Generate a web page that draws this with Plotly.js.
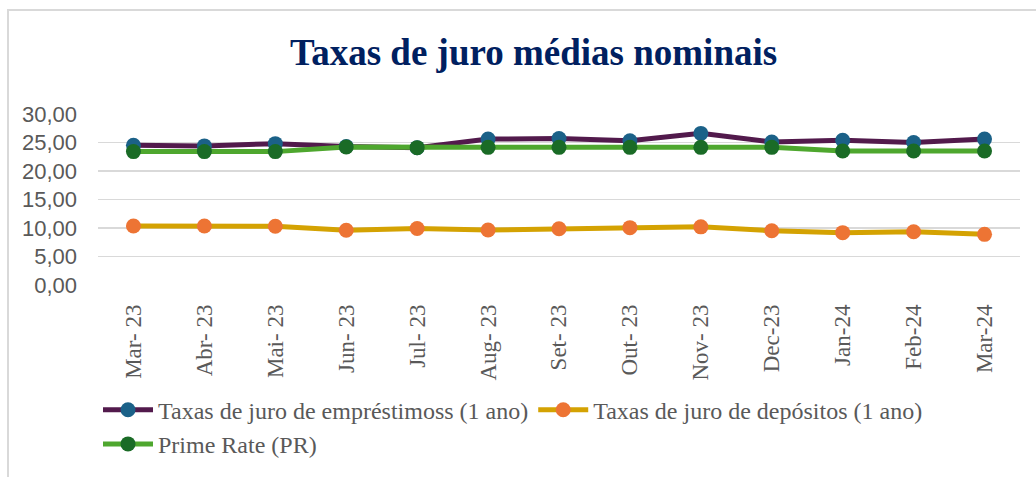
<!DOCTYPE html>
<html>
<head>
<meta charset="utf-8">
<script src="https://cdn.plot.ly/plotly-3.0.1.min.js"></script>
<style>
  html, body { margin: 0; padding: 0; background: #ffffff; }
  #chart { position: absolute; left: 0; top: 0; width: 1036px; height: 477px; }
  #frame { position: absolute; left: 7px; top: 9px; width: 1100px; height: 600px;
           border-left: 2px solid #d9d9d9; border-top: 2px solid #d9d9d9; pointer-events: none; }
</style>
</head>
<body>
<div id="chart"></div>
<div id="frame"></div>
<script>
const categories = ['Mar- 23','Abr- 23','Mai- 23','Jun- 23','Jul- 23','Aug- 23','Set- 23','Out- 23','Nov- 23','Dec-23','Jan-24','Feb-24','Mar-24'];
const emprestimos = [24.5, 24.4, 24.8, 24.3, 24.1, 25.6, 25.7, 25.3, 26.6, 25.1, 25.4, 25.0, 25.6];
const depositos = [10.35, 10.35, 10.3, 9.6, 9.9, 9.65, 9.88, 10.06, 10.2, 9.53, 9.18, 9.35, 8.89];
const primeRate = [23.4, 23.4, 23.4, 24.2, 24.1, 24.15, 24.15, 24.15, 24.15, 24.15, 23.5, 23.5, 23.5];
const seriesNames = ['Taxas de juro de empréstimoss (1 ano)', 'Taxas de juro de depósitos (1 ano)', 'Prime Rate (PR)'];

const traces = [
  { x: categories, y: emprestimos, name: seriesNames[0], type: 'scatter', mode: 'lines+markers',
    line: { color: '#521a4c', width: 5 }, marker: { color: '#1b6188', size: 15 } },
  { x: categories, y: depositos, name: seriesNames[1], type: 'scatter', mode: 'lines+markers',
    line: { color: '#d4a202', width: 5 }, marker: { color: '#ed7434', size: 15 } },
  { x: categories, y: primeRate, name: seriesNames[2], type: 'scatter', mode: 'lines+markers',
    line: { color: '#4ea72e', width: 5 }, marker: { color: '#1a6b26', size: 15 } }
];

const layout = {
  width: 1036, height: 477,
  margin: { l: 98, r: 16, t: 114, b: 192, autoexpand: false },
  paper_bgcolor: 'rgba(0,0,0,0)',
  plot_bgcolor: '#ffffff',
  separators: ',.',
  showlegend: true,
  title: {
    text: 'Taxas de juro médias nominais',
    font: { family: 'Liberation Serif', size: 37, color: '#002060', weight: 'bold' },
    xref: 'container', yref: 'container', x: 0.515, y: 0.891, xanchor: 'center', yanchor: 'middle'
  },
  xaxis: {
    type: 'category',
    range: [-0.5, categories.length - 0.5],
    tickangle: -90,
    automargin: false,
    showgrid: false, zeroline: false, showline: false, ticks: '',
    ticklabelstandoff: 14,
    tickfont: { family: 'Liberation Serif', size: 23, color: '#595959' }
  },
  yaxis: {
    range: [0, 30], dtick: 5, tickformat: '.2f',
    automargin: false,
    showgrid: true, gridcolor: '#d9d9d9', gridwidth: 1.5,
    zeroline: false, showline: false, ticks: '',
    ticklabelstandoff: 20,
    tickfont: { family: 'Liberation Sans', size: 22, color: '#595959' }
  },
  legend: {
    orientation: 'h', x: 0, xanchor: 'left', y: -0.60, yanchor: 'top',
    font: { family: 'Liberation Serif', size: 24, color: '#595959' },
    itemwidth: 50, tracegroupgap: 0, bgcolor: 'rgba(0,0,0,0)'
  }
};

Plotly.newPlot('chart', traces, layout, { displayModeBar: false, staticPlot: true });
</script>
</body>
</html>
